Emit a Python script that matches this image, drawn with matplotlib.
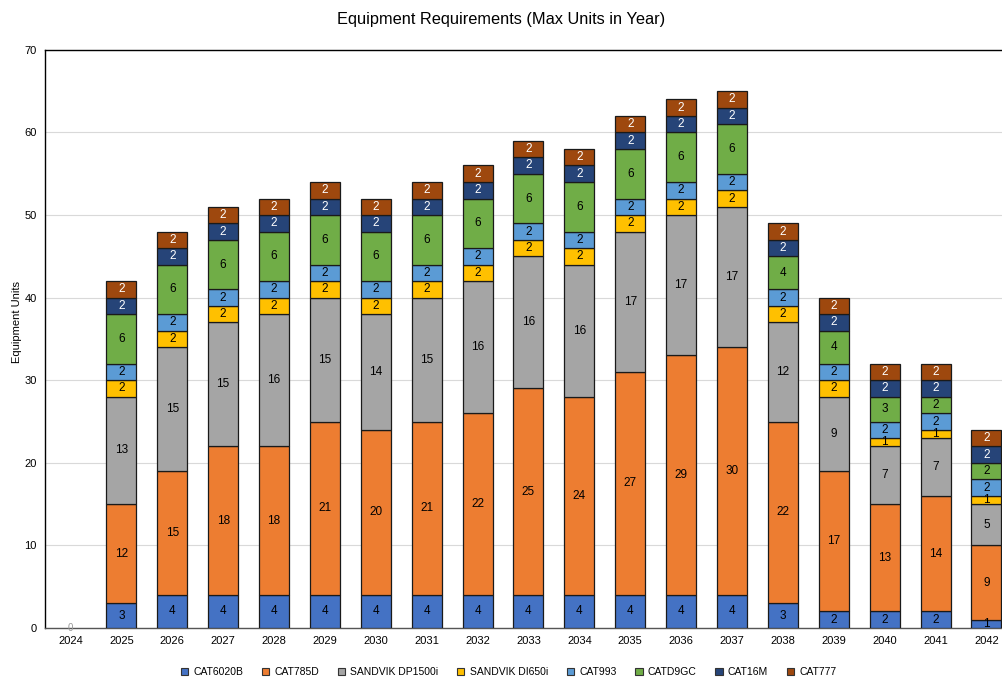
import numpy as np
import matplotlib
matplotlib.use("Agg")
import matplotlib.pyplot as plt
from matplotlib.patches import Patch

plt.rcParams['font.family'] = ['Liberation Sans', 'DejaVu Sans']

years = [str(y) for y in range(2024, 2043)]

cat6020b = [0, 3, 4, 4, 4, 4, 4, 4, 4, 4, 4, 4, 4, 4, 3, 2, 2, 2, 1]
cat785d = [0, 12, 15, 18, 18, 21, 20, 21, 22, 25, 24, 27, 29, 30, 22, 17, 13, 14, 9]
sandvik_dp1500i = [0, 13, 15, 15, 16, 15, 14, 15, 16, 16, 16, 17, 17, 17, 12, 9, 7, 7, 5]
sandvik_di650i = [0, 2, 2, 2, 2, 2, 2, 2, 2, 2, 2, 2, 2, 2, 2, 2, 1, 1, 1]
cat993 = [0, 2, 2, 2, 2, 2, 2, 2, 2, 2, 2, 2, 2, 2, 2, 2, 2, 2, 2]
catd9gc = [0, 6, 6, 6, 6, 6, 6, 6, 6, 6, 6, 6, 6, 6, 4, 4, 3, 2, 2]
cat16m = [0, 2, 2, 2, 2, 2, 2, 2, 2, 2, 2, 2, 2, 2, 2, 2, 2, 2, 2]
cat777 = [0, 2, 2, 2, 2, 2, 2, 2, 2, 2, 2, 2, 2, 2, 2, 2, 2, 2, 2]

series = [
    ("CAT6020B", cat6020b, "#4472C4", "black"),
    ("CAT785D", cat785d, "#ED7D31", "black"),
    ("SANDVIK DP1500i", sandvik_dp1500i, "#A5A5A5", "black"),
    ("SANDVIK DI650i", sandvik_di650i, "#FFC000", "black"),
    ("CAT993", cat993, "#5B9BD5", "black"),
    ("CATD9GC", catd9gc, "#70AD47", "black"),
    ("CAT16M", cat16m, "#264478", "white"),
    ("CAT777", cat777, "#9E480E", "white"),
]

fig = plt.figure(figsize=(10.03, 6.81), dpi=100)
ax = fig.add_axes([0.0449, 0.0778, 0.964, 0.849])

x = np.arange(len(years))
bottom = np.zeros(len(years))
handles = []
for name, vals, color, tcolor in series:
    vals = np.array(vals, dtype=float)
    # no outline on empty segments
    lw = [0.9 if v > 0 else 0 for v in vals]
    bars = ax.bar(x, vals, width=0.59, bottom=bottom, color=color,
                  edgecolor="#1a1a1a", linewidth=lw, zorder=3)
    labels = [f"{int(v)}" if v > 0 else "" for v in vals]
    ax.bar_label(bars, labels=labels, label_type="center", fontsize=8.5,
                 color=tcolor, zorder=4)
    bottom += vals
    handles.append(Patch(facecolor=color, edgecolor="#333333", linewidth=0.8, label=name))

# empty first year gets a zero marker at the baseline
ax.text(0, 0, "0", ha="center", va="center", fontsize=7, color="#999999", zorder=5)

ax.set_xlim(-0.5, 18.5)
ax.set_ylim(0, 70)
ax.set_yticks(range(0, 71, 10))
ax.set_xticks(x)
ax.set_xticklabels(years)
ax.tick_params(axis="both", length=0, labelsize=8, pad=6)
ax.yaxis.grid(True, color="#d9d9d9", linewidth=0.8, zorder=0)
ax.set_axisbelow(True)
for side in ["top", "left", "bottom"]:
    ax.spines[side].set_color("black")
    ax.spines[side].set_linewidth(1.0)
ax.spines["right"].set_visible(False)
ax.spines["bottom"].set_color("#555555")

ax.set_ylabel("Equipment Units", fontsize=8)
ax.yaxis.set_label_coords(-0.024, 0.53)
fig.text(0.5, 0.972, "Equipment Requirements (Max Units in Year)",
         ha="center", va="center", fontsize=11.8)

fig.legend(handles=handles, loc="center", bbox_to_anchor=(0.507, 0.013), ncol=8,
           frameon=False, fontsize=7.5, handlelength=0.7, handleheight=0.7,
           handletextpad=0.5, columnspacing=1.8)

fig.savefig("out.png", dpi=100)
